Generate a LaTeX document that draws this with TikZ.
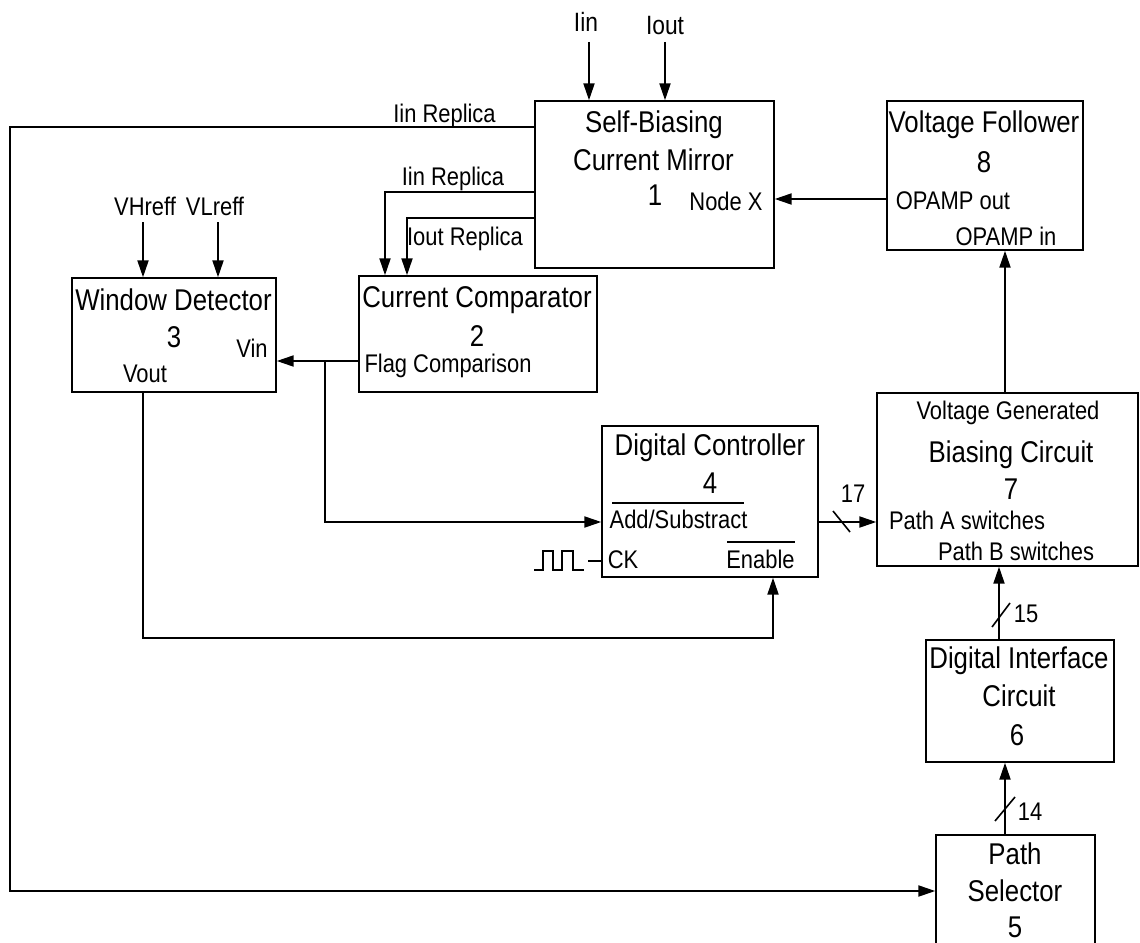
\documentclass[tikz,border=0pt]{standalone}
\usepackage{fontspec}
\setmainfont{Liberation Sans}[FakeStretch=0.86]
\usetikzlibrary{arrows.meta,calc}
\begin{document}
\begin{tikzpicture}[x=1pt,y=-1pt,
  blk/.style={draw, line width=1.4pt, inner sep=0pt},
  ttl/.style={font=\fontsize{30}{34}\selectfont, anchor=base, inner sep=0pt},
  lbl/.style={font=\fontsize{25.5}{30}\selectfont, anchor=base, inner sep=0pt},
  conn/.style={line width=2pt},
  arr/.style={conn, -{Triangle[length=17pt,width=11pt]}},
  bus/.style={line width=1.6pt},
  ovl/.style={line width=1.4pt}
]
\useasboundingbox (0,0) rectangle (1140,942);
\clip (0,0) rectangle (1140,942);

% blocks
\node[blk, minimum width=239pt, minimum height=167pt] (b1) at (654.5,184.5) {};
\node[blk, minimum width=196pt, minimum height=149pt] (b8) at (985,175.5) {};
\node[blk, minimum width=238pt, minimum height=116pt] (b2) at (478,334) {};
\node[blk, minimum width=204pt, minimum height=114pt] (b3) at (174,335) {};
\node[blk, minimum width=216pt, minimum height=151pt] (b4) at (710,501.5) {};
\node[blk, minimum width=261pt, minimum height=173pt] (b7) at (1007.5,479.5) {};
\node[blk, minimum width=188pt, minimum height=122pt] (b6) at (1020,701) {};
\node[blk, minimum width=159pt, minimum height=115pt] (b5) at (1015.5,892.5) {};

% texts block 1
\node[ttl] (t1a) at (654,132) {Self-Biasing};
\node[ttl] (t1b) at (653.5,170) {Current Mirror};
\node[ttl] (t1c) at (655,205) {1};
\node[lbl] (t1d) at (726,210) {Node X};
% block 8
\node[ttl] (t8a) at (984,132) {Voltage Follower};
\node[ttl] (t8b) at (984,172) {8};
\node[lbl] (t8c) at (953,209) {OPAMP out};
\node[lbl] (t8d) at (1006,245) {OPAMP in};
% block 3
\node[ttl] (t3a) at (173.5,310) {Window Detector};
\node[ttl] (t3b) at (174,347) {3};
\node[lbl] (t3c) at (252,357) {Vin};
\node[lbl] (t3d) at (145,382) {Vout};
% block 2
\node[ttl] (t2a) at (477,307) {Current Comparator};
\node[ttl] (t2b) at (477,346) {2};
\node[lbl] (t2c) at (448,372) {Flag Comparison};
% block 4
\node[ttl] (t4a) at (710,455) {Digital Controller};
\node[ttl] (t4b) at (710,493) {4};
\node[lbl] (t4c) at (678.5,528) {Add/Substract};
\node[lbl] (t4d) at (623,568) {CK};
\node[lbl] (t4e) at (760.5,568) {Enable};
% block 7
\node[lbl] (t7a) at (1008,419) {Voltage Generated};
\node[ttl] (t7b) at (1011,462) {Biasing Circuit};
\node[ttl] (t7c) at (1011,499) {7};
\node[lbl] (t7d) at (967,529) {Path A switches};
\node[lbl] (t7e) at (1016,560) {Path B switches};
% block 6
\node[ttl] (t6a) at (1019,668) {Digital Interface};
\node[ttl] (t6b) at (1019,706) {Circuit};
\node[ttl] (t6c) at (1017,745) {6};
% block 5
\node[ttl] (t5a) at (1015,864) {Path};
\node[ttl] (t5b) at (1015,901) {Selector};
\node[ttl] (t5c) at (1015,937) {5};

% free labels
\node[lbl, font=\fontsize{26.5}{30}\selectfont] (liin) at (586,32) {Iin};
\node[lbl, font=\fontsize{26.5}{30}\selectfont] (liout) at (665,35) {Iout};
\node[lbl] (lrep1) at (444.5,122) {Iin Replica};
\node[lbl] (lrep2) at (453,185) {Iin Replica};
\node[lbl] (lrep3) at (465,245) {Iout Replica};
\node[lbl] (lvh) at (145,215) {VHreff};
\node[lbl] (lvl) at (215,215) {VLreff};
\node[lbl] (l17) at (853,502) {17};
\node[lbl] (l15) at (1026,622) {15};
\node[lbl] (l14) at (1030,820) {14};

% overlines
\draw[ovl] (612,503) -- (744,503);
\draw[ovl] (727,542) -- (795,542);

% coordinates
\coordinate (iinS) at (589,42);
\coordinate (ioutS) at (665,42);
\coordinate (tl) at (10,127);
\coordinate (bl) at (10,891);
\coordinate (r2) at (385,192);
\coordinate (r3) at (407,218);
\coordinate (vhS) at (143,222);
\coordinate (vlS) at (218,222);
\coordinate (flg) at (0,361);
\coordinate (jn) at (325,361);
\coordinate (jd) at (325,522);
\coordinate (vo1) at (143,638);
\coordinate (vo2) at (773,638);
\coordinate (opo) at (0,199);
\coordinate (vfi) at (1005,0);
\coordinate (bus17) at (0,522);
\coordinate (b15) at (999,0);
\coordinate (b14) at (1005,0);
\coordinate (ckl) at (588,561);
\coordinate (ck0) at (534,570);

% connectors
\draw[arr] (iinS) -- (iinS |- b1.north);
\draw[arr] (ioutS) -- (ioutS |- b1.north);
\draw[arr] (b1.west |- tl) -- (tl) -- (bl) -- (b5.west |- bl);
\draw[arr] (b1.west |- r2) -- (r2) -- (r2 |- b2.north);
\draw[arr] (b1.west |- r3) -- (r3) -- (r3 |- b2.north);
\draw[arr] (vhS) -- (vhS |- b3.north);
\draw[arr] (vlS) -- (vlS |- b3.north);
\draw[arr] (b2.west |- flg) -- (b3.east |- flg);
\draw[arr] (jn) -- (jd) -- (b4.west |- jd);
\draw[arr] (vo1 |- b3.south) -- (vo1) -- (vo2) -- (vo2 |- b4.south);
\draw[arr] (b8.west |- opo) -- (b1.east |- opo);
\draw[arr] (vfi |- b7.north) -- (vfi |- b8.south);
\draw[arr] (b4.east |- bus17) -- (b7.west |- bus17);
\draw[bus] (833,511) -- (850,532);
\draw[arr] (b15 |- b6.north) -- (b15 |- b7.south);
\draw[bus] (992,627) -- (1010,603);
\draw[arr] (b14 |- b5.north) -- (b14 |- b6.south);
\draw[bus] (995,821) -- (1015,797);

% clock
\draw[line width=1.8pt] (ck0) -- ++(9,0) -- ++(0,-19) -- ++(10,0) -- ++(0,19) -- ++(9,0) -- ++(0,-19) -- ++(11,0) -- ++(0,19) -- ++(11,0);
\draw[line width=1.8pt] (ckl) -- (b4.west |- ckl);
\end{tikzpicture}
\end{document}
